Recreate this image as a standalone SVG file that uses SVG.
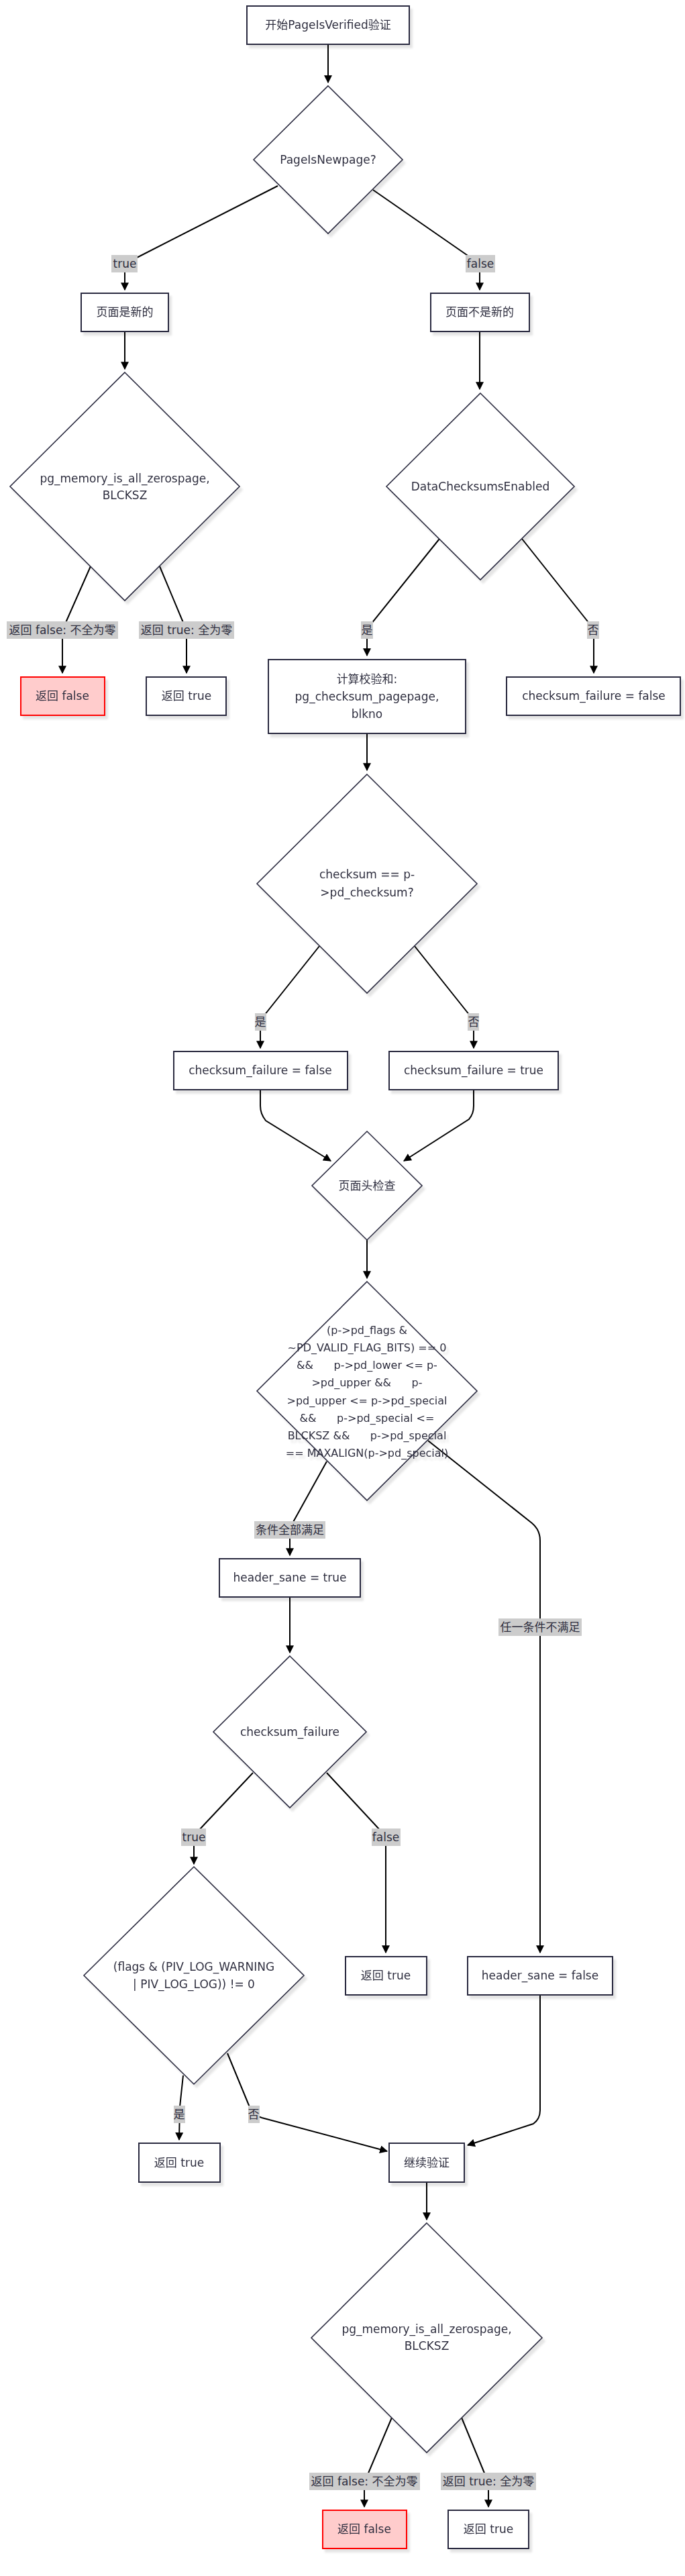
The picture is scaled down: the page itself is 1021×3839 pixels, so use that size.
<svg xmlns="http://www.w3.org/2000/svg" width="1021" height="3839" viewBox="0 0 1021 3839">
<style>
.n rect,.n polygon{fill:#fff;stroke:#2c2c40;stroke-width:2}
.n polygon{stroke-width:1.6}
.n.red rect{fill:#ffcccc;stroke:#ff0000}
.n{filter:url(#sh)}
text{font-family:"DejaVu Sans","Noto Sans CJK SC",sans-serif;font-size:17px;fill:#2f2f3f;text-anchor:middle;white-space:pre}
.small text{font-size:16px}
.e path{fill:none;stroke:#000;stroke-width:2;marker-end:url(#ah)}
.lb rect{fill:#cccccc}
</style>
<defs>
<marker id="ah" viewBox="0 0 10 10" refX="9" refY="5" markerWidth="6" markerHeight="6" orient="auto" markerUnits="strokeWidth">
<path d="M0,0 L10,5 L0,10 z" fill="#000"/>
</marker>
<filter id="sh" x="-10%" y="-10%" width="130%" height="130%">
<feDropShadow dx="4" dy="5" stdDeviation="1.5" flood-color="#000" flood-opacity="0.1"/>
</filter>
</defs>

<g id="edges" class="e">
<path d="M489,66 L489,123"/>
<path d="M414,277 L198,387 Q186,393 186,402 L186,432"/>
<path d="M556,283 L706,387 Q715,394 715,402 L715,432"/>
<path d="M186,494 L186,550"/>
<path d="M715,494 L715,580"/>
<path d="M135,844 L97,930 Q93,940 93,950 L93,1003"/>
<path d="M238,844 L274,930 Q278,940 278,950 L278,1003"/>
<path d="M655,803 L553,930 Q547,940 547,950 L547,977"/>
<path d="M778,803 L879,930 Q885,940 885,950 L885,1003"/>
<path d="M547,1093 L547,1148"/>
<path d="M476,1410 L394,1513 Q388,1522 388,1533 L388,1562"/>
<path d="M618,1410 L700,1513 Q706,1522 706,1533 L706,1562"/>
<path d="M388,1624 L388,1648 Q388,1660 396,1670 L493,1730"/>
<path d="M706,1624 L706,1648 Q706,1660 699,1668 L602,1730"/>
<path d="M547,1848 L547,1905"/>
<path d="M487,2178 L436,2270 Q432,2278 432,2288 L432,2318"/>
<path d="M638,2147 L793,2270 Q805,2280 805,2296 L805,2910"/>
<path d="M432,2380 L432,2463"/>
<path d="M377,2642 L296,2728 Q289,2736 289,2746 L289,2778"/>
<path d="M487,2642 L567,2728 Q575,2736 575,2746 L575,2910"/>
<path d="M273,3093 L268,3140 L267,3189"/>
<path d="M339,3060 L372,3140 Q377,3152 390,3156 L577,3206"/>
<path d="M805,2973 L805,3145 Q805,3158 795,3165 L697,3197"/>
<path d="M636,3252 L636,3308"/>
<path d="M584,3603 L548,3688 Q543,3698 543,3708 L543,3736"/>
<path d="M688,3603 L723,3688 Q728,3698 728,3708 L728,3736"/>
</g>

<g id="edge-labels" class="lb">
<g><rect x="166" y="380" width="39" height="26"/><text x="186" y="399">true</text></g>
<g><rect x="694" y="380" width="44" height="26"/><text x="716" y="399">false</text></g>
<g><rect x="10" y="926" width="166" height="26"/><text x="93" y="945">返回 false: 不全为零</text></g>
<g><rect x="207" y="926" width="142" height="26"/><text x="278" y="945">返回 true: 全为零</text></g>
<g><rect x="538" y="926" width="18" height="26"/><text x="547" y="945">是</text></g>
<g><rect x="875" y="926" width="18" height="26"/><text x="884" y="945">否</text></g>
<g><rect x="380" y="1510" width="17" height="26"/><text x="388" y="1529">是</text></g>
<g><rect x="697" y="1510" width="17" height="26"/><text x="706" y="1529">否</text></g>
<g><rect x="379" y="2267" width="106" height="26"/><text x="432" y="2286">条件全部满足</text></g>
<g><rect x="743" y="2412" width="124" height="26"/><text x="805" y="2431">任一条件不满足</text></g>
<g><rect x="270" y="2725" width="37" height="26"/><text x="289" y="2744">true</text></g>
<g><rect x="554" y="2725" width="43" height="26"/><text x="575" y="2744">false</text></g>
<g><rect x="259" y="3138" width="17" height="26"/><text x="267" y="3157">是</text></g>
<g><rect x="370" y="3138" width="17" height="26"/><text x="378" y="3157">否</text></g>
<g><rect x="461" y="3685" width="165" height="26"/><text x="543" y="3704">返回 false: 不全为零</text></g>
<g><rect x="657" y="3685" width="142" height="26"/><text x="728" y="3704">返回 true: 全为零</text></g>
</g>

<g id="start" class="n"><rect x="368" y="9" width="242" height="57"/><text x="489" y="43">开始PageIsVerified验证</text></g>
<g id="isNewpage" class="n"><polygon points="489,128 600,238 489,348 378,238"/><text x="489" y="244">PageIsNewpage?</text></g>
<g id="pageNew" class="n"><rect x="121" y="437" width="130" height="57"/><text x="186" y="471">页面是新的</text></g>
<g id="pageNotNew" class="n"><rect x="642" y="437" width="147" height="57"/><text x="715" y="471">页面不是新的</text></g>
<g id="allZero1" class="n"><polygon points="186,555 357,725 186,895 15,725"/><text x="186" y="719">pg_memory_is_all_zerospage,</text><text x="186" y="744">BLCKSZ</text></g>
<g id="dcEnabled" class="n"><polygon points="716,586 856,725 716,864 576,725"/><text x="716" y="731">DataChecksumsEnabled</text></g>
<g id="retFalse1" class="n red"><rect x="31" y="1009" width="125" height="57"/><text x="93" y="1043">返回 false</text></g>
<g id="retTrue1" class="n"><rect x="218" y="1009" width="119" height="57"/><text x="278" y="1043">返回 true</text></g>
<g id="calcChecksum" class="n"><rect x="400" y="983" width="294" height="110"/><text x="547" y="1018">计算校验和:</text><text x="547" y="1044">pg_checksum_pagepage,</text><text x="547" y="1070">blkno</text></g>
<g id="cfFalse1" class="n"><rect x="755" y="1009" width="259" height="57"/><text x="885" y="1043">checksum_failure = false</text></g>
<g id="cmpChecksum" class="n"><polygon points="547,1154 711,1317 547,1480 383,1317"/><text x="547" y="1309">checksum == p-</text><text x="547" y="1336">&gt;pd_checksum?</text></g>
<g id="cfFalse2" class="n"><rect x="259" y="1567" width="259" height="57"/><text x="388" y="1601">checksum_failure = false</text></g>
<g id="cfTrue" class="n"><rect x="580" y="1567" width="252" height="57"/><text x="706" y="1601">checksum_failure = true</text></g>
<g id="headerCheck" class="n"><polygon points="547,1686 629,1767 547,1848 465,1767"/><text x="547" y="1773">页面头检查</text></g>
<g id="headerCond" class="n small"><polygon points="547,1910 711,2073 547,2236 383,2073"/>
<text x="547" y="1988">(p-&gt;pd_flags &amp;</text>
<text x="547" y="2014">~PD_VALID_FLAG_BITS) == 0</text>
<text x="547" y="2040">&amp;&amp;      p-&gt;pd_lower &lt;= p-</text>
<text x="547" y="2066">&gt;pd_upper &amp;&amp;      p-</text>
<text x="547" y="2093">&gt;pd_upper &lt;= p-&gt;pd_special</text>
<text x="547" y="2119">&amp;&amp;      p-&gt;pd_special &lt;=</text>
<text x="547" y="2145">BLCKSZ &amp;&amp;      p-&gt;pd_special</text>
<text x="547" y="2171">== MAXALIGN(p-&gt;pd_special)</text>
</g>
<g id="hsTrue" class="n"><rect x="327" y="2323" width="210" height="57"/><text x="432" y="2357">header_sane = true</text></g>
<g id="cfCheck" class="n"><polygon points="432,2468 546,2581 432,2694 318,2581"/><text x="432" y="2587">checksum_failure</text></g>
<g id="retTrue2" class="n"><rect x="515" y="2916" width="121" height="57"/><text x="575" y="2950">返回 true</text></g>
<g id="hsFalse" class="n"><rect x="697" y="2916" width="216" height="57"/><text x="805" y="2950">header_sane = false</text></g>
<g id="logFlags" class="n"><polygon points="289,2782 453,2944 289,3106 125,2944"/><text x="289" y="2937">(flags &amp; (PIV_LOG_WARNING</text><text x="289" y="2963">| PIV_LOG_LOG)) != 0</text></g>
<g id="retTrue3" class="n"><rect x="207" y="3194" width="121" height="58"/><text x="267" y="3229">返回 true</text></g>
<g id="continue" class="n"><rect x="580" y="3194" width="112" height="58"/><text x="636" y="3229">继续验证</text></g>
<g id="allZero2" class="n"><polygon points="636,3313 808,3484 636,3655 464,3484"/><text x="636" y="3477">pg_memory_is_all_zerospage,</text><text x="636" y="3502">BLCKSZ</text></g>
<g id="retFalse2" class="n red"><rect x="481" y="3741" width="125" height="57"/><text x="543" y="3775">返回 false</text></g>
<g id="retTrue4" class="n"><rect x="668" y="3741" width="120" height="57"/><text x="728" y="3775">返回 true</text></g>
</svg>
